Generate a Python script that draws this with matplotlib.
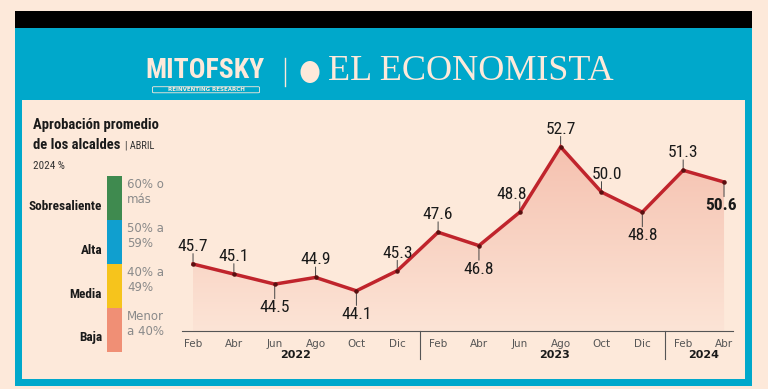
import numpy as np
import matplotlib
matplotlib.use("Agg")
import matplotlib.pyplot as plt
from matplotlib.patches import Rectangle, Ellipse, FancyBboxPatch
from matplotlib.colors import LinearSegmentedColormap
from matplotlib import font_manager

# datos
meses = ["Feb", "Abr", "Jun", "Ago", "Oct", "Dic",
         "Feb", "Abr", "Jun", "Ago", "Oct", "Dic",
         "Feb", "Abr"]
aprobacion = [45.7, 45.1, 44.5, 44.9, 44.1, 45.3,
              47.6, 46.8, 48.8, 52.7, 50.0, 48.8,
              51.3, 50.6]
etiqueta_abajo = [False, False, True, False, True, False,
                  False, True, False, False, False, True,
                  False, True]
anios = ["2022", "2023", "2024"]
niveles = ["Sobresaliente", "Alta", "Media", "Baja"]
rangos = ["60% o\nmás", "50% a\n59%", "40% a\n49%", "Menor\na 40%"]
colores_nivel = ["#3f8a4f", "#109fcf", "#f6c41c", "#f08f75"]

# pequeños desplazamientos horizontales de etiquetas (en puntos)
nudge = {8: -6, 10: 4, 13: -2}

names = {f.name for f in font_manager.fontManager.ttflist}
NARROW = "DejaVu Sans"
for cand in ["Roboto Condensed", "Liberation Sans Narrow", "Open Sans Condensed"]:
    if cand in names:
        NARROW = cand
        break
SERIF = "Liberation Serif" if "Liberation Serif" in names else "DejaVu Serif"
NARROW_KW = dict(family=NARROW, stretch="condensed")

CREMA = "#fde9da"
AZUL = "#00a8cb"
ROJO = "#c0242c"
W, H = 768, 389

fig = plt.figure(figsize=(W / 100, H / 100), dpi=100, facecolor=CREMA)


def px(x, y):
    return x / W, 1 - y / H


def rect(x0, y0, x1, y1, color, z=-10):
    fig.patches.append(Rectangle(px(x0, y1), (x1 - x0) / W, (y1 - y0) / H,
                                 transform=fig.transFigure, color=color, lw=0, zorder=z))


# marco
rect(15, 11, 752, 28, "black")
rect(15, 28, 752, 386, AZUL)
rect(22, 100, 745, 379, CREMA, z=-9)

# encabezado
fig.text(*px(205, 70), "MITOFSKY", color=CREMA, fontsize=20, fontweight="bold",
         ha="center", va="center", **NARROW_KW)
fig.patches.append(FancyBboxPatch(px(154, 92), 104 / W, 4.5 / H, boxstyle="round,pad=0.002",
                                  transform=fig.transFigure, fc="none", ec=CREMA, lw=0.6))
fig.text(*px(206, 89.8), "REINVENTING RESEARCH", color=CREMA, fontsize=4,
         fontweight="bold", ha="center", va="center")
fig.lines.append(plt.Line2D([285 / W, 285 / W], [1 - 58 / H, 1 - 86 / H],
                            transform=fig.transFigure, color=CREMA, lw=1))
fig.patches.append(Ellipse(px(310, 72), 19 / W, 22 / H, transform=fig.transFigure,
                           fc=CREMA, ec="none"))
fig.text(*px(471, 71), "EL ECONOMISTA", color=CREMA, fontsize=26, family=SERIF,
         ha="center", va="center")

# titulo
fig.text(*px(33, 125), "Aprobación promedio", fontsize=10.5, fontweight="bold",
         va="center", color="#1a1a1a", **NARROW_KW)
fig.text(*px(33, 145), "de los alcaldes", fontsize=10.5, fontweight="bold",
         va="center", color="#1a1a1a", **NARROW_KW)
fig.text(*px(125, 145), "| ABRIL", fontsize=7.5, va="center", color="#333333", **NARROW_KW)
fig.text(*px(33, 166), "2024 %", fontsize=8, va="center", color="#333333", **NARROW_KW)

# leyenda de niveles
cortes = [176, 220, 264, 308, 352]
for i, (nivel, rango, c) in enumerate(zip(niveles, rangos, colores_nivel)):
    rect(107, cortes[i], 122, cortes[i + 1], c, z=-8)
    yc = (cortes[i] + cortes[i + 1]) / 2
    fig.text(*px(102, yc + 8), nivel, fontsize=9.5, fontweight="bold", ha="right",
             va="center", color="#1a1a1a", **NARROW_KW)
    fig.text(*px(127, yc - 6), rango, fontsize=8.5, ha="left", va="center",
             color="#8a8a8a", linespacing=1.15)

# grafica
x0, x1, yb, yt = 182, 733, 331, 100
ax = fig.add_axes([x0 / W, 1 - yb / H, (x1 - x0) / W, (yb - yt) / H], zorder=2)
ax.patch.set_visible(False)
x = np.arange(len(aprobacion))

poly = ax.fill_between(x, aprobacion, 41.7, color="none", lw=0)
cmap = LinearSegmentedColormap.from_list("g", ["#fce4d6", "#f5bfad"])
grad = np.linspace(0, 1, 256).reshape(-1, 1)
im = ax.imshow(grad, cmap=cmap, aspect="auto", origin="lower",
               extent=[-0.27, 13.22, 41.7, 53.5], zorder=1)
im.set_clip_path(poly.get_paths()[0], transform=ax.transData)
ax.set_xlim(-0.27, 13.22)
ax.set_ylim(41.7, 55.5)

ax.plot(x, aprobacion, color=ROJO, lw=2.5, solid_joinstyle="miter", zorder=3)
ax.scatter(x, aprobacion, s=5, color="#5a1010", zorder=4)

for xi, v, abajo in zip(x, aprobacion, etiqueta_abajo):
    ultimo = xi == len(aprobacion) - 1
    # marca vertical
    ax.annotate("", (xi, v), xytext=(0, -10.5 if abajo else 7.5),
                textcoords="offset points",
                arrowprops=dict(arrowstyle="-", color="#444444", lw=0.7,
                                shrinkA=0, shrinkB=0), zorder=2)
    ax.annotate(f"{v:.1f}", (xi, v), xytext=(nudge.get(xi, 0), -11.5 if abajo else 9.5),
                textcoords="offset points",
                ha="center", va="top" if abajo else "baseline",
                fontsize=12.5, **NARROW_KW,
                fontweight="bold" if ultimo else "normal", color="#1a1a1a")

for s in ["top", "right", "left"]:
    ax.spines[s].set_visible(False)
ax.spines["bottom"].set_color("#555555")
ax.spines["bottom"].set_linewidth(0.8)
ax.set_yticks([])
ax.set_xticks(x, meses, fontsize=7.5, color="#555555")
ax.tick_params(axis="x", length=0, pad=6)

for pos, anio in zip([2.5, 8.85, 12.5], anios):
    ax.text(pos, -0.105, anio, transform=ax.get_xaxis_transform(), ha="center",
            va="center", fontsize=8, fontweight="bold", color="#1a1a1a")
for pos in [5.55, 11.55]:
    ax.plot([pos, pos], [0, -0.12], transform=ax.get_xaxis_transform(),
            color="#555555", lw=0.8, clip_on=False)

fig.savefig("out.png", dpi=100, facecolor=CREMA)
